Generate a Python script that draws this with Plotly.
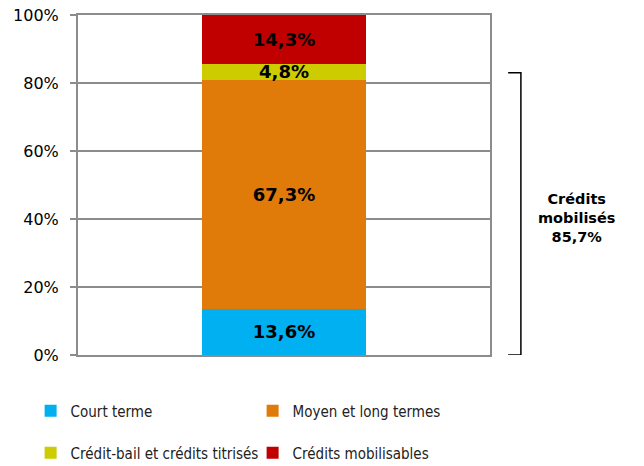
import plotly.graph_objects as go

categories = [""]
series_names = ["Court terme", "Moyen et long termes", "Crédit-bail et crédits titrisés", "Crédits mobilisables"]
series_values = [13.6, 67.3, 4.8, 14.3]
series_colors = ["#00B0F0", "#E07B0A", "#CCCC00", "#C00000"]
legend_groups = ["legend", "legend", "legend2", "legend2"]
tick_vals = [0, 20, 40, 60, 80, 100]
tick_text = ["0%", "20%", "40%", "60%", "80%", "100%"]
bracket_label = "Crédits<br>mobilisés<br>85,7%"

def fmt(v):
    return f"{v:.1f}%".replace(".", ",")

fig = go.Figure()
for name, val, col, lg in zip(series_names, series_values, series_colors, legend_groups):
    fig.add_trace(go.Bar(
        x=categories, y=[val], name=name, marker=dict(color=col, line=dict(width=0)),
        text=[fmt(val)], textposition="inside", insidetextanchor="middle",
        textfont=dict(family="DejaVu Sans", size=18, color="black", weight="bold"),
        constraintext="none", legend=lg, width=0.4,
    ))

legend_font = dict(family="DejaVu Sans Condensed, DejaVu Sans", size=15, color="#222")
fig.update_layout(
    barmode="stack",
    width=644, height=466,
    margin=dict(l=78, r=154, t=15, b=111, autoexpand=False),
    plot_bgcolor="white", paper_bgcolor="white",
    uniformtext=dict(minsize=18, mode="show"),
    showlegend=True,
    legend=dict(orientation="h", x=-0.115, y=-0.165, xanchor="left", yanchor="middle",
                entrywidth=177, entrywidthmode="pixels", traceorder="normal",
                font=legend_font, itemwidth=30),
    legend2=dict(orientation="h", x=-0.115, y=-0.288, xanchor="left", yanchor="middle",
                 entrywidth=177, entrywidthmode="pixels", traceorder="normal",
                 font=legend_font, itemwidth=30),
)
fig.update_yaxes(range=[0, 100], tickvals=tick_vals, ticktext=tick_text,
                 showgrid=True, gridcolor="#8C8C8C", gridwidth=1.5,
                 showline=True, linecolor="#8C8C8C", linewidth=2, mirror=True,
                 ticks="outside", ticklen=6, tickcolor="#8C8C8C", tickwidth=2,
                 tickfont=dict(family="DejaVu Sans", size=16, color="black"),
                 ticklabelstandoff=8,
                 zeroline=False, fixedrange=True)
fig.update_xaxes(showline=True, linecolor="#8C8C8C", linewidth=2, mirror=True,
                 showticklabels=False, ticks="", fixedrange=True)

# bracket
fig.add_shape(type="path", xref="paper", yref="y",
              path="M 1.044 83 L 1.075 83 L 1.075 0 L 1.044 0",
              line=dict(color="black", width=1.5))
fig.add_annotation(xref="paper", yref="y", x=1.211, y=40.3, text=bracket_label,
                   showarrow=False, align="center", xanchor="center", yanchor="middle",
                   font=dict(family="DejaVu Sans", size=14.5, color="black", weight="bold"))

fig.write_html("out.html", config={"displayModeBar": False},
               post_script="document.body.style.margin='0';")
